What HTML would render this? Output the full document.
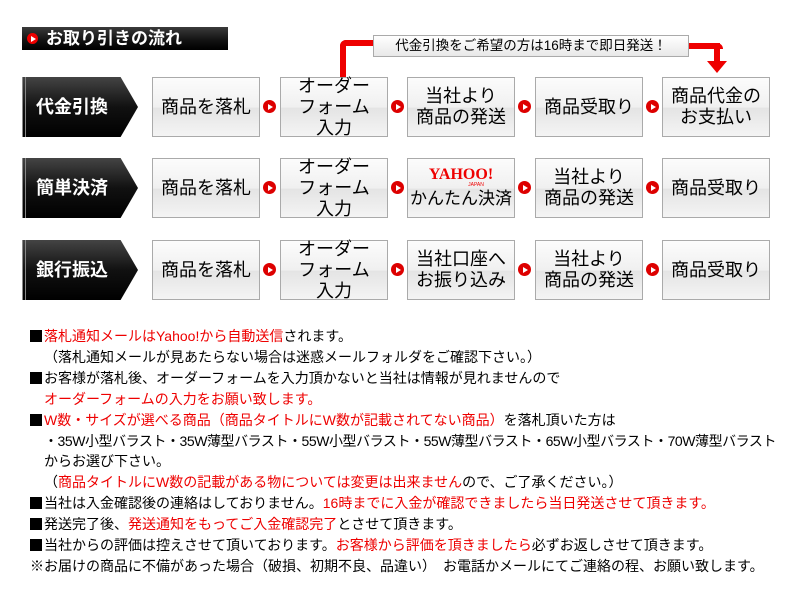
<!DOCTYPE html>
<html><head><meta charset="utf-8"><style>
*{margin:0;padding:0;box-sizing:border-box}
body{width:800px;height:600px;background:#fff;position:relative;overflow:hidden;font-family:"Liberation Sans","Noto Sans CJK JP",sans-serif;color:#111}
.title{position:absolute;left:22px;top:27px;width:206px;height:23px;background:linear-gradient(#3a3a3a,#111 60%,#000);color:#fff;font-weight:bold;font-size:17px;line-height:23px;padding-left:24px}
.title:before{content:"";position:absolute;left:5px;top:6px;width:11px;height:11px;border-radius:50%;background:#e00}
.title:after{content:"";position:absolute;left:9px;top:9px;border-left:5px solid #fff;border-top:3px solid transparent;border-bottom:3px solid transparent}
.lab{position:absolute;left:22px;width:116px;height:60px;background:linear-gradient(#444,#111 50%,#000);clip-path:polygon(0 0,85% 0,100% 50%,85% 100%,0 100%);color:#fff;font-weight:bold;font-size:18px;line-height:60px;padding-left:10px;border-left:4px double #888}
.box{position:absolute;width:108px;height:60px;border:1px solid #aaa;background:linear-gradient(#fcfcfc,#f0f0f0 50%,#e4e4e4 52%,#f4f4f4);display:flex;align-items:center;justify-content:center;text-align:center;font-size:18px;line-height:21px;color:#000;white-space:nowrap}
.arr{position:absolute;width:13px;height:13px;border-radius:50%;background:#d00}
.arr:after{content:"";position:absolute;left:5px;top:3.5px;border-left:5px solid #fff;border-top:3px solid transparent;border-bottom:3px solid transparent}
.note{position:absolute;left:373px;top:35px;width:316px;height:22px;border:1px solid #aaa;background:linear-gradient(#fff,#e8e8e8);font-size:13.5px;line-height:20px;text-align:center;color:#000}
.txt{position:absolute;left:30px;top:326px;font-size:14px;line-height:20.9px;white-space:nowrap;color:#000}
.r{color:#e00}
.i{padding-left:14px}
.sq{display:inline-block;width:12px;height:12px;background:#000;margin-right:2px;vertical-align:-1px}
</style></head><body>
<div class="title">お取り引きの流れ</div>
<div style="position:absolute;left:340px;top:40px;width:6px;height:38px;background:#e00;border-radius:6px 0 0 0"></div>
<div style="position:absolute;left:340px;top:40px;width:35px;height:6px;background:#e00;border-radius:6px 0 0 0"></div>
<div style="position:absolute;left:688px;top:43px;width:35px;height:6px;background:#e00;border-radius:0 6px 0 0"></div>
<div style="position:absolute;left:714px;top:43px;width:6px;height:20px;background:#e00"></div>
<div style="position:absolute;left:707px;top:61px;border-top:12px solid #e00;border-left:10px solid transparent;border-right:10px solid transparent"></div>
<div class="note">代金引換をご希望の方は16時まで即日発送！</div>

<div class="lab" style="top:77px">代金引換</div>
<div class="box" style="left:152px;top:77px">商品を落札</div>
<div class="box" style="left:280px;top:77px">オーダー<br>フォーム<br>入力</div>
<div class="box" style="left:407px;top:77px">当社より<br>商品の発送</div>
<div class="box" style="left:535px;top:77px">商品受取り</div>
<div class="box" style="left:662px;top:77px">商品代金の<br>お支払い</div>

<div class="lab" style="top:158px">簡単決済</div>
<div class="box" style="left:152px;top:158px">商品を落札</div>
<div class="box" style="left:280px;top:158px">オーダー<br>フォーム<br>入力</div>
<div class="box" style="left:407px;top:158px;flex-direction:column;font-size:17px"><div style="color:#e00;font-family:'Liberation Serif',serif;font-size:16px;line-height:14px;font-weight:bold">YAHOO!</div><div style="color:#e00;font-size:5px;line-height:6px;margin-left:30px">JAPAN</div>かんたん決済</div>
<div class="box" style="left:535px;top:158px">当社より<br>商品の発送</div>
<div class="box" style="left:662px;top:158px">商品受取り</div>

<div class="lab" style="top:240px">銀行振込</div>
<div class="box" style="left:152px;top:240px">商品を落札</div>
<div class="box" style="left:280px;top:240px">オーダー<br>フォーム<br>入力</div>
<div class="box" style="left:407px;top:240px">当社口座へ<br>お振り込み</div>
<div class="box" style="left:535px;top:240px">当社より<br>商品の発送</div>
<div class="box" style="left:662px;top:240px">商品受取り</div>

<div class="arr" style="left:263px;top:100px"></div><div class="arr" style="left:391px;top:100px"></div><div class="arr" style="left:518px;top:100px"></div><div class="arr" style="left:646px;top:100px"></div>
<div class="arr" style="left:263px;top:181px"></div><div class="arr" style="left:391px;top:181px"></div><div class="arr" style="left:518px;top:181px"></div><div class="arr" style="left:646px;top:181px"></div>
<div class="arr" style="left:263px;top:263px"></div><div class="arr" style="left:391px;top:263px"></div><div class="arr" style="left:518px;top:263px"></div><div class="arr" style="left:646px;top:263px"></div>

<div class="txt">
<span class="sq"></span><span class="r">落札通知メールはYahoo!から自動送信</span>されます。<br>
<span class="i">（落札通知メールが見あたらない場合は迷惑メールフォルダをご確認下さい。）</span><br>
<span class="sq"></span>お客様が落札後、オーダーフォームを入力頂かないと当社は情報が見れませんので<br>
<span class="i r">オーダーフォームの入力をお願い致します。</span><br>
<span class="sq"></span><span class="r">W数・サイズが選べる商品（商品タイトルにW数が記載されてない商品）</span>を落札頂いた方は<br>
<span class="i" style="letter-spacing:-0.45px">・35W小型バラスト・35W薄型バラスト・55W小型バラスト・55W薄型バラスト・65W小型バラスト・70W薄型バラスト</span><br>
<span class="i">からお選び下さい。</span><br>
<span class="i">（<span class="r">商品タイトルにW数の記載がある物については変更は出来ません</span>ので、ご了承ください。）</span><br>
<span class="sq"></span>当社は入金確認後の連絡はしておりません。<span class="r">16時までに入金が確認できましたら当日発送させて頂きます。</span><br>
<span class="sq"></span>発送完了後、<span class="r">発送通知をもってご入金確認完了</span>とさせて頂きます。<br>
<span class="sq"></span>当社からの評価は控えさせて頂いております。<span class="r">お客様から評価を頂きましたら</span>必ずお返しさせて頂きます。<br>
※お届けの商品に不備があった場合（破損、初期不良、品違い）　お電話かメールにてご連絡の程、お願い致します。
</div>
</body></html>
